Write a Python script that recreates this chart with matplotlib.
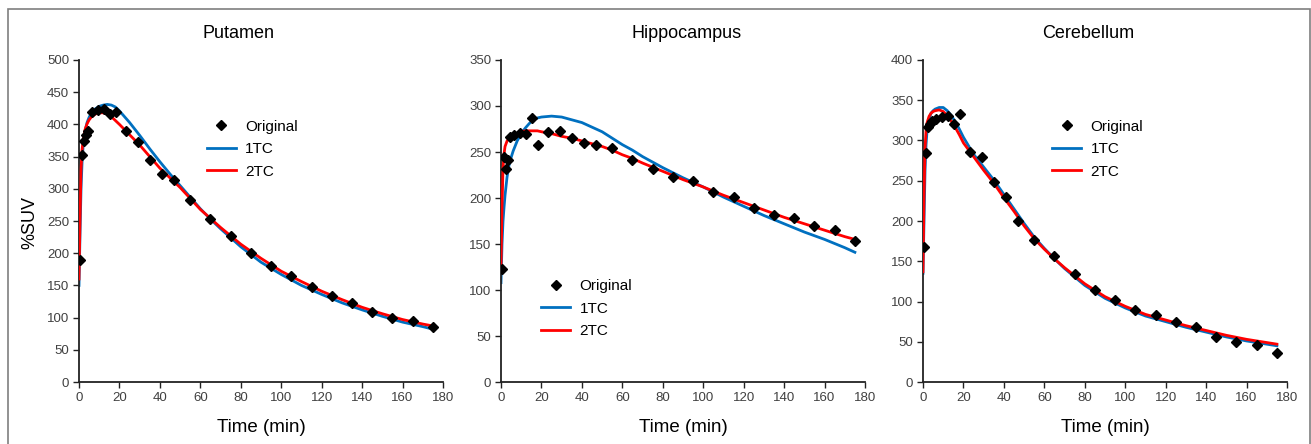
import numpy as np
import matplotlib
matplotlib.use("Agg")
import matplotlib.pyplot as plt
from matplotlib.patches import Rectangle

plt.rcParams['font.family'] = ['Liberation Sans', 'DejaVu Sans']

# frame mid-times of the measured data (min)
t_orig = [0.5, 1.5, 2.5, 3.5, 4.5, 6.5, 9.5, 12.5, 15.5, 18.5, 23, 29, 35, 41, 47, 55,
          65, 75, 85, 95, 105, 115, 125, 135, 145, 155, 165, 175]
t_fit = [0, 0.5, 1, 1.5, 2, 3, 4, 5, 6, 8, 10, 12, 14, 16, 18, 20, 25, 30, 35, 40, 45, 50, 55,
         60, 65, 70, 80, 90, 100, 110, 120, 130, 140, 150, 160, 170, 175]

# Putamen
put_orig = [190, 352, 374, 384, 389, 419, 423, 424, 416, 419, 390, 373, 345, 323, 313, 282,
            253, 226, 200, 180, 164, 148, 133, 122, 109, 99, 95, 86]
put_1tc = [150, 230, 300, 340, 365, 390, 403, 411, 417, 424, 428, 430, 431, 430, 427, 421, 403, 383, 362, 342, 323, 305, 287,
           269, 253, 238, 210, 186, 167, 150, 136, 123, 112, 102, 93, 86, 82]
put_2tc = [160, 250, 330, 360, 375, 392, 401, 407, 411, 416, 418, 418, 416, 412, 406, 400, 384, 368, 350, 332, 317, 302, 285,
           268, 254, 240, 214, 192, 172, 156, 141, 128, 116, 106, 97, 90, 87]

# Hippocampus
hip_orig = [123, 245, 232, 241, 266, 268, 271, 270, 287, 258, 272, 273, 265, 260, 258, 254,
            241, 232, 223, 219, 207, 201, 189, 181, 178, 170, 165, 153]
hip_1tc = [108, 150, 175, 190, 203, 223, 236, 244, 251, 262, 270, 276, 281, 285, 287, 288, 289, 288, 285, 282, 277, 272, 265,
           258, 252, 245, 233, 222, 212, 201, 191, 181, 172, 163, 155, 146, 141]
hip_2tc = [124, 190, 232, 248, 256, 262, 265, 267, 268, 270, 272, 273, 273, 273, 273, 272, 270, 267, 265, 262, 259, 256, 252,
           247, 243, 238, 229, 220, 212, 203, 195, 187, 179, 172, 165, 158, 155]

# Cerebellum
cer_orig = [168, 284, 317, 321, 324, 327, 329, 331, 321, 333, 286, 280, 249, 230, 200, 177,
            157, 134, 114, 102, 90, 83, 74, 68, 56, 50, 46, 36]
cer_1tc = [135, 200, 262, 295, 312, 327, 334, 337, 339, 341, 341, 337, 331, 323, 314, 304, 283, 267, 251, 233, 215, 197, 180,
           166, 153, 141, 120, 104, 92, 82, 75, 68, 62, 56, 51, 47, 45]
cer_2tc = [137, 230, 290, 312, 322, 330, 334, 336, 337, 338, 336, 331, 324, 316, 307, 297, 280, 263, 247, 229, 212, 194, 178,
           165, 153, 142, 122, 106, 94, 84, 77, 70, 64, 58, 53, 49, 47]

regions = ["Putamen", "Hippocampus", "Cerebellum"]
ymaxes = [500, 350, 400]

W, H = 1311, 444
fig = plt.figure(figsize=(W / 100, H / 100), dpi=100)

# outer grey frame
fig.patches.append(Rectangle((8 / W, -0.05), (1310 - 8) / W, 1.05 - 9 / H,
                             transform=fig.transFigure, fill=False,
                             edgecolor='#7f7f7f', linewidth=1.2))

lefts = [79, 501, 923]
title_x = [238, 687, 1088]
leg_pos = [(0.33, 0.838), (0.09, 0.343), (0.334, 0.838)]
data = [(put_orig, put_1tc, put_2tc), (hip_orig, hip_1tc, hip_2tc), (cer_orig, cer_1tc, cer_2tc)]

for i in range(3):
    ax = fig.add_axes([lefts[i] / W, (H - 382) / H, 364 / W, 322 / H])
    orig, c1, c2 = data[i]
    ax.plot(t_fit, c1, color='#0070C0', lw=2, label='1TC', zorder=2)
    ax.plot(t_fit, c2, color='#FF0000', lw=2, label='2TC', zorder=3)
    ax.plot(t_orig, orig, 'D', color='black', ms=5.5, label='Original', zorder=4)
    ax.set_xlim(0, 180)
    ax.set_ylim(0, ymaxes[i])
    ax.set_xticks(range(0, 181, 20))
    ax.set_yticks(range(0, ymaxes[i] + 1, 50))
    for s in ['top', 'right']:
        ax.spines[s].set_visible(False)
    for s in ['left', 'bottom']:
        ax.spines[s].set_linewidth(1.3)
        ax.spines[s].set_color('#222222')
    ax.tick_params(direction='out', length=4, width=1, colors='#222222',
                   labelsize=9.5, labelcolor='#404040', pad=3)
    ax.set_xlabel('Time (min)', fontsize=13.5, labelpad=11)
    ax.patch.set_visible(False)
    handles, labels = ax.get_legend_handles_labels()
    order = [2, 0, 1]
    ax.legend([handles[k] for k in order], [labels[k] for k in order],
              loc='upper left', bbox_to_anchor=leg_pos[i], frameon=False,
              fontsize=11, handlelength=1.9, handletextpad=0.6,
              labelspacing=0.55, borderpad=0)
    fig.text(title_x[i] / W, 1 - 34 / H, regions[i], ha='center', va='center', fontsize=13)

fig.text(30 / W, 1 - 222 / H, '%SUV', rotation=90, ha='center', va='center', fontsize=13)

fig.savefig('out.png', dpi=100)
